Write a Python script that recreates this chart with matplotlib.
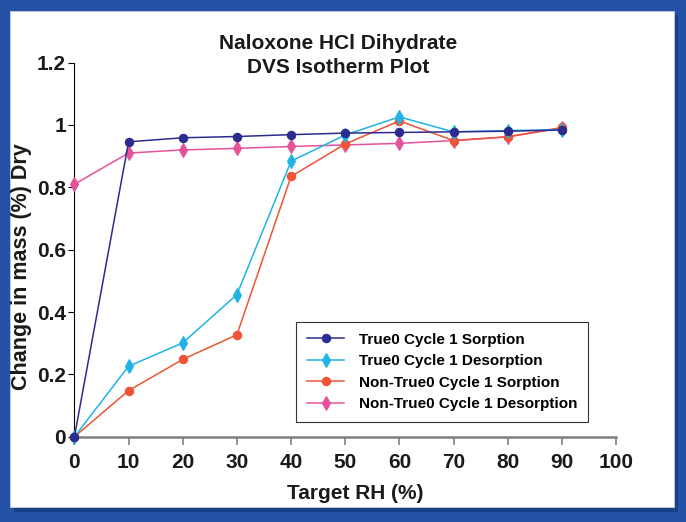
import matplotlib
matplotlib.use("Agg")
import matplotlib.pyplot as plt
from matplotlib.patches import Rectangle

plt.rcParams['font.family'] = ['Liberation Sans', 'DejaVu Sans']
plt.rcParams['font.weight'] = 'bold'

# data
rh = [0, 10, 20, 30, 40, 50, 60, 70, 80, 90]
true0_sorp = [0.0, 0.946, 0.959, 0.963, 0.969, 0.974, 0.976, 0.978, 0.980, 0.984]
true0_desorp = [0.0, 0.226, 0.301, 0.456, 0.884, 0.968, 1.026, 0.978, 0.982, 0.985]
nontrue0_sorp = [0.0, 0.148, 0.248, 0.327, 0.835, 0.939, 1.013, 0.950, 0.962, 0.992]
nontrue0_desorp = [0.810, 0.910, 0.920, 0.925, 0.931, 0.936, 0.941, 0.950, 0.962, 0.990]

labels = ["True0 Cycle 1 Sorption", "True0 Cycle 1 Desorption",
          "Non-True0 Cycle 1 Sorption", "Non-True0 Cycle 1 Desorption"]
colors = ['#2B2C8E', '#1FB3E6', '#EE5435', '#E6529A']
markers = ['o', 'd', 'o', 'd']
series = [true0_sorp, true0_desorp, nontrue0_sorp, nontrue0_desorp]
zorders = [6, 5, 4, 3]

fig = plt.figure(figsize=(6.86, 5.22), dpi=100)
fig.patch.set_facecolor('#2452A6')

# white slide panel with a soft shadow
fig.add_artist(Rectangle((14 / 686, 1 - 512 / 522), 664 / 686, 497 / 522,
                         transform=fig.transFigure, facecolor='#10306A', alpha=0.5,
                         edgecolor='none', zorder=0))
fig.add_artist(Rectangle((10 / 686, 1 - 507 / 522), 664 / 686, 496 / 522,
                         transform=fig.transFigure, facecolor='white',
                         edgecolor='#CCCCCC', linewidth=0.6, zorder=0))

ax = fig.add_axes([0.1085, 0.1634, 0.7895, 0.7166])
ax.set_facecolor('none')

for ys, lb, c, m, z in zip(series, labels, colors, markers, zorders):
    ax.plot(rh, ys, color=c, marker=m, markersize=6 if m == 'o' else 7,
            markeredgewidth=0.8, linewidth=1.1, label=lb, zorder=z, clip_on=False)

ax.set_xlim(0, 100)
ax.set_ylim(0, 1.2)
ax.set_xticks(range(0, 101, 10))
ax.set_yticks([0, 0.2, 0.4, 0.6, 0.8, 1.0, 1.2])
ax.set_yticklabels(['0', '0.2', '0.4', '0.6', '0.8', '1', '1.2'])

for s in ['top', 'right']:
    ax.spines[s].set_visible(False)
ax.spines['left'].set_color('black')
ax.spines['left'].set_linewidth(0.8)
ax.spines['bottom'].set_color('#808080')
ax.spines['bottom'].set_linewidth(1.8)

ax.tick_params(axis='y', direction='out', length=4, width=0.8, color='black',
               labelsize=15, pad=2)
ax.tick_params(axis='x', direction='out', length=6, width=1.2, color='#808080',
               labelsize=15, pad=6)
for t in ax.get_xticklabels() + ax.get_yticklabels():
    t.set_fontweight('bold')
    t.set_color('#1A1A1A')

ax.set_xlabel("Target RH (%)", fontsize=15, fontweight='bold', color='#1A1A1A')
ax.set_ylabel("Change in mass (%) Dry", fontsize=15.5, fontweight='bold', color='#1A1A1A')
ax.xaxis.set_label_coords(0.519, -0.126)
ax.yaxis.set_label_coords(-0.079, 0.456)

fig.text(0.493, 0.894, "Naloxone HCl Dihydrate\nDVS Isotherm Plot", ha='center',
         va='center', fontsize=15, fontweight='bold', color='#1A1A1A', linespacing=1.3)

leg = ax.legend(loc='upper left', bbox_to_anchor=(0.41, 0.307), borderaxespad=0,
                frameon=True, fancybox=False, edgecolor='black',
                handlelength=2.4, handletextpad=1.0, labelspacing=0.5,
                borderpad=0.7, prop={'weight': 'bold', 'size': 11})
leg.get_frame().set_linewidth(0.8)
leg.set_zorder(10)

fig.savefig("out.png", dpi=100, facecolor=fig.get_facecolor())
